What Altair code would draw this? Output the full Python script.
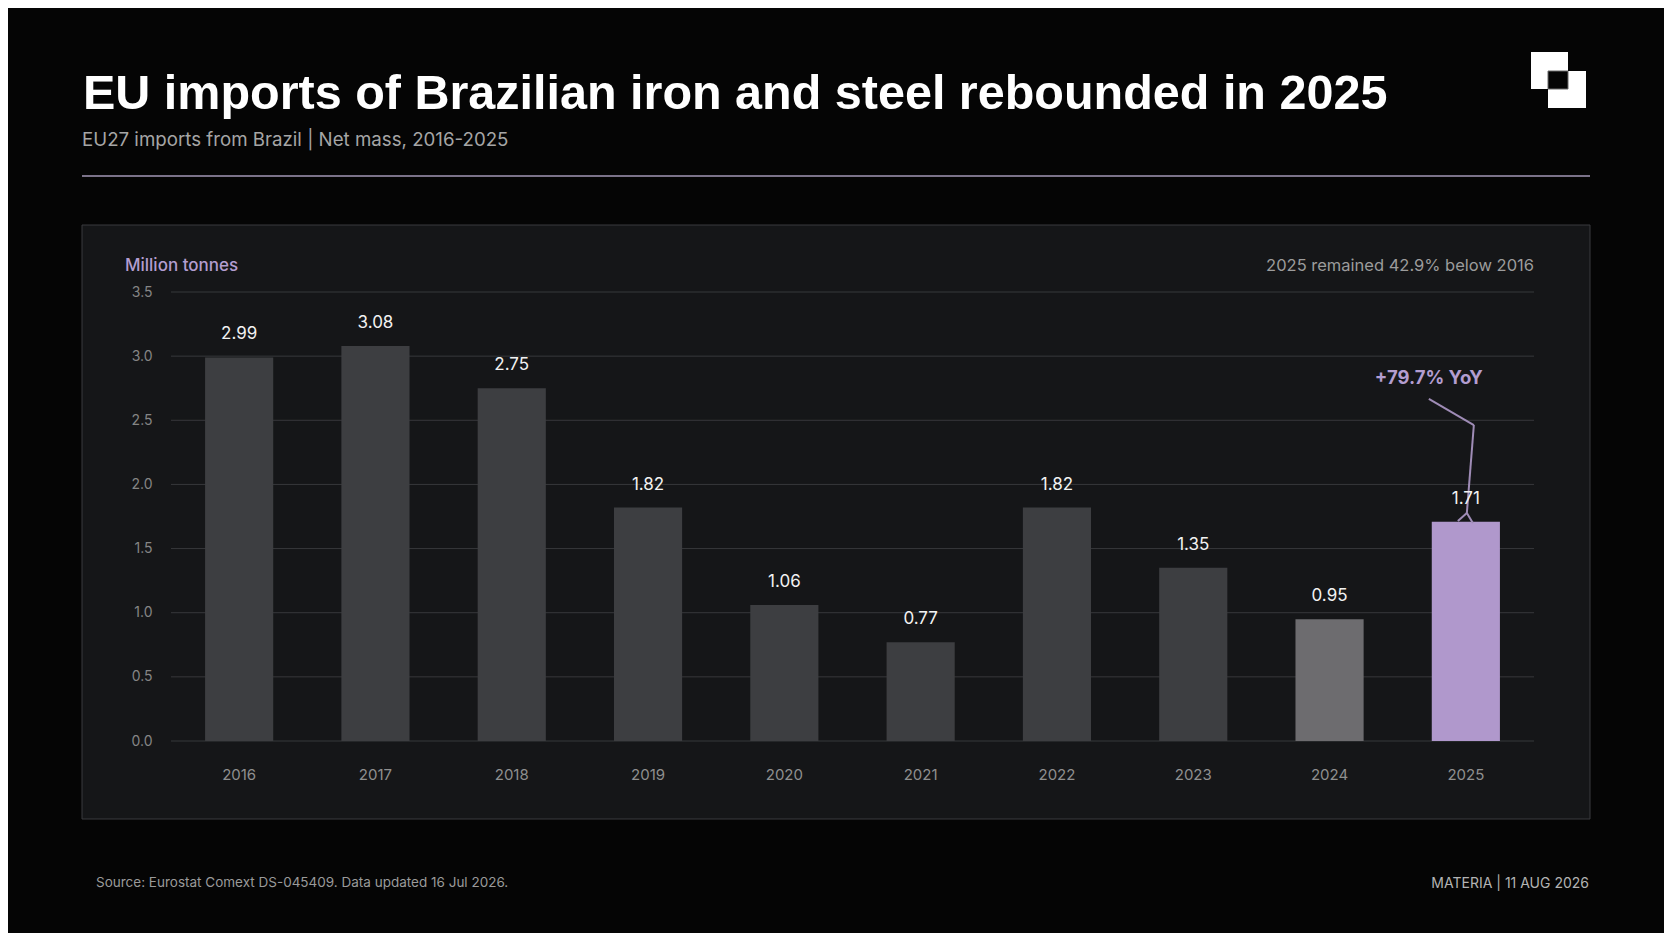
import altair as alt
import pandas as pd

# ---- data ----
years = ["2016", "2017", "2018", "2019", "2020", "2021", "2022", "2023", "2024", "2025"]
values = [2.99, 3.08, 2.75, 1.82, 1.06, 0.77, 1.82, 1.35, 0.95, 1.71]
y_ticks = [0.0, 0.5, 1.0, 1.5, 2.0, 2.5, 3.0, 3.5]

title_text = "EU imports of Brazilian iron and steel rebounded in 2025"
subtitle_text = "EU27 imports from Brazil | Net mass, 2016-2025"
unit_text = "Million tonnes"
note_text = "2025 remained 42.9% below 2016"
yoy_text = "+79.7% YoY"
source_text = "Source: Eurostat Comext DS-045409. Data updated 16 Jul 2026."
brand_text = "MATERIA | 11 AUG 2026"

# connector for the YoY callout (value-axis positions)
callout_text_y = 2.83
callout_y = [2.666, 2.463, 1.777]
fork_y = [1.715, 1.699]

# ---- styling ----
BG = "#050505"
PANEL = "#151618"
PANEL_STROKE = "#3a3b3e"
GRID = "#37383b"
BAR = "#3d3e41"
BAR_PREV = "#6d6c6f"
BAR_HI = "#b098cc"
PURPLE = "#b39dd0"
LINE_PURPLE = "#9f8cb6"
FONT = "Inter"
TITLE_FONT = "Liberation Sans"

W, H = 1363, 449

bar_colors = [BAR] * (len(years) - 2) + [BAR_PREV, BAR_HI]
df = pd.DataFrame({"year": years, "value": values})
one = alt.Data(values=[{"k": 0}])

x_scale = alt.Scale(domain=years, paddingInner=0.5, paddingOuter=0.25)
y_scale = alt.Scale(domain=[0, 3.5], nice=False)


def px_text(txt, x, y, size, color, weight="normal", align="left", font=FONT, baseline="middle"):
    return alt.Chart(one).mark_text(
        text=txt, align=align, baseline=baseline, font=font,
        fontSize=size, fontWeight=weight, color=color,
    ).encode(x=alt.value(x), y=alt.value(y))


def px_rect(x, x2, y, y2, fill, stroke=None, sw=0):
    kw = dict(fill=fill)
    if stroke:
        kw.update(stroke=stroke, strokeWidth=sw)
    return alt.Chart(one).mark_rect(**kw).encode(
        x=alt.value(x), x2=alt.value(x2), y=alt.value(y), y2=alt.value(y2)
    )


panel = px_rect(-89, 1419, -67, 527, PANEL, PANEL_STROKE, 1)

grid = alt.Chart(pd.DataFrame({"t": y_ticks})).mark_rule(color=GRID, strokeWidth=1).encode(
    y=alt.Y("t:Q", scale=y_scale), x=alt.value(0), x2=alt.value(W)
)

bars = alt.Chart(df).mark_bar().encode(
    x=alt.X("year:N", scale=x_scale, sort=years,
            axis=alt.Axis(title=None, labelAngle=0, domain=False, ticks=False, grid=False,
                          labelPadding=26, labelColor="#8f8f8f", labelFont=FONT,
                          labelFontSize=15, zindex=1)),
    y=alt.Y("value:Q", scale=y_scale,
            axis=alt.Axis(title=None, values=y_ticks, format=".1f", domain=False, ticks=False,
                          grid=False, labelPadding=19, labelColor="#858585", labelFont=FONT,
                          labelFontSize=14, zindex=1)),
    color=alt.Color("year:N", scale=alt.Scale(domain=years, range=bar_colors), legend=None),
)

labels = alt.Chart(df).mark_text(
    dy=-23, baseline="middle", align="center", font=FONT, fontSize=17, color="#f2f2f2"
).encode(
    x=alt.X("year:N", sort=years), y="value:Q", text=alt.Text("value:Q", format=".2f")
)

hi = years[-1]


def seg(y1, y2, o1, o2):
    return alt.Chart(one).mark_rule(
        color=LINE_PURPLE, strokeWidth=2, xOffset=o1, x2Offset=o2
    ).encode(
        x=alt.XDatum(hi, type="nominal"), x2=alt.X2Datum(hi),
        y=alt.YDatum(y1, type="quantitative"), y2=alt.Y2Datum(y2),
    )


callout = [
    seg(callout_y[0], callout_y[1], -37, 8),
    seg(callout_y[1], callout_y[2], 8, 1),
    seg(callout_y[2], fork_y[0], 1, -8),
    seg(callout_y[2], fork_y[1], 1, 7),
]

yoy = alt.Chart(one).mark_text(
    text=yoy_text, align="center", baseline="middle", font=FONT, fontSize=18.5,
    fontWeight="bold", color=PURPLE, dx=-37,
).encode(x=alt.XDatum(hi, type="nominal"), y=alt.YDatum(callout_text_y, type="quantitative"))

title = px_text(title_text, -88, -183, 48.5, "#ffffff", weight="bold", font=TITLE_FONT,
                baseline="alphabetic")
subtitle = px_text(subtitle_text, -89, -152, 18.7, "#a6a6a6")
sep = alt.Chart(one).mark_rule(color="#7b7289", strokeWidth=2).encode(
    x=alt.value(-89), x2=alt.value(1419), y=alt.value(-116)
)
logo = [
    px_rect(1360, 1397, -240, -203, "#ffffff"),
    px_rect(1377, 1415, -221, -184, "#ffffff"),
    px_rect(1377, 1397, -221, -203, BG, "#6a6a6a", 1),
]
unit = px_text(unit_text, -46, -26, 17, PURPLE, weight=500)
note = px_text(note_text, 1363, -26, 16.5, "#9c9c9c", align="right")
source = px_text(source_text, -75, 591, 13.5, "#9a9a9a")
brand = px_text(brand_text, 1418, 592, 14, "#b3b3b3", align="right")

chart = alt.layer(
    panel, grid, bars, *callout, labels, yoy,
    title, subtitle, sep, *logo, unit, note, source, brand,
).properties(
    width=W, height=H,
    autosize=alt.AutoSizeParams(type="none"),
    padding={"left": 163, "top": 284, "right": 130, "bottom": 192},
    background=BG,
).configure_view(stroke=None)

chart.save("out.html", embed_options={"renderer": "svg", "actions": False})
